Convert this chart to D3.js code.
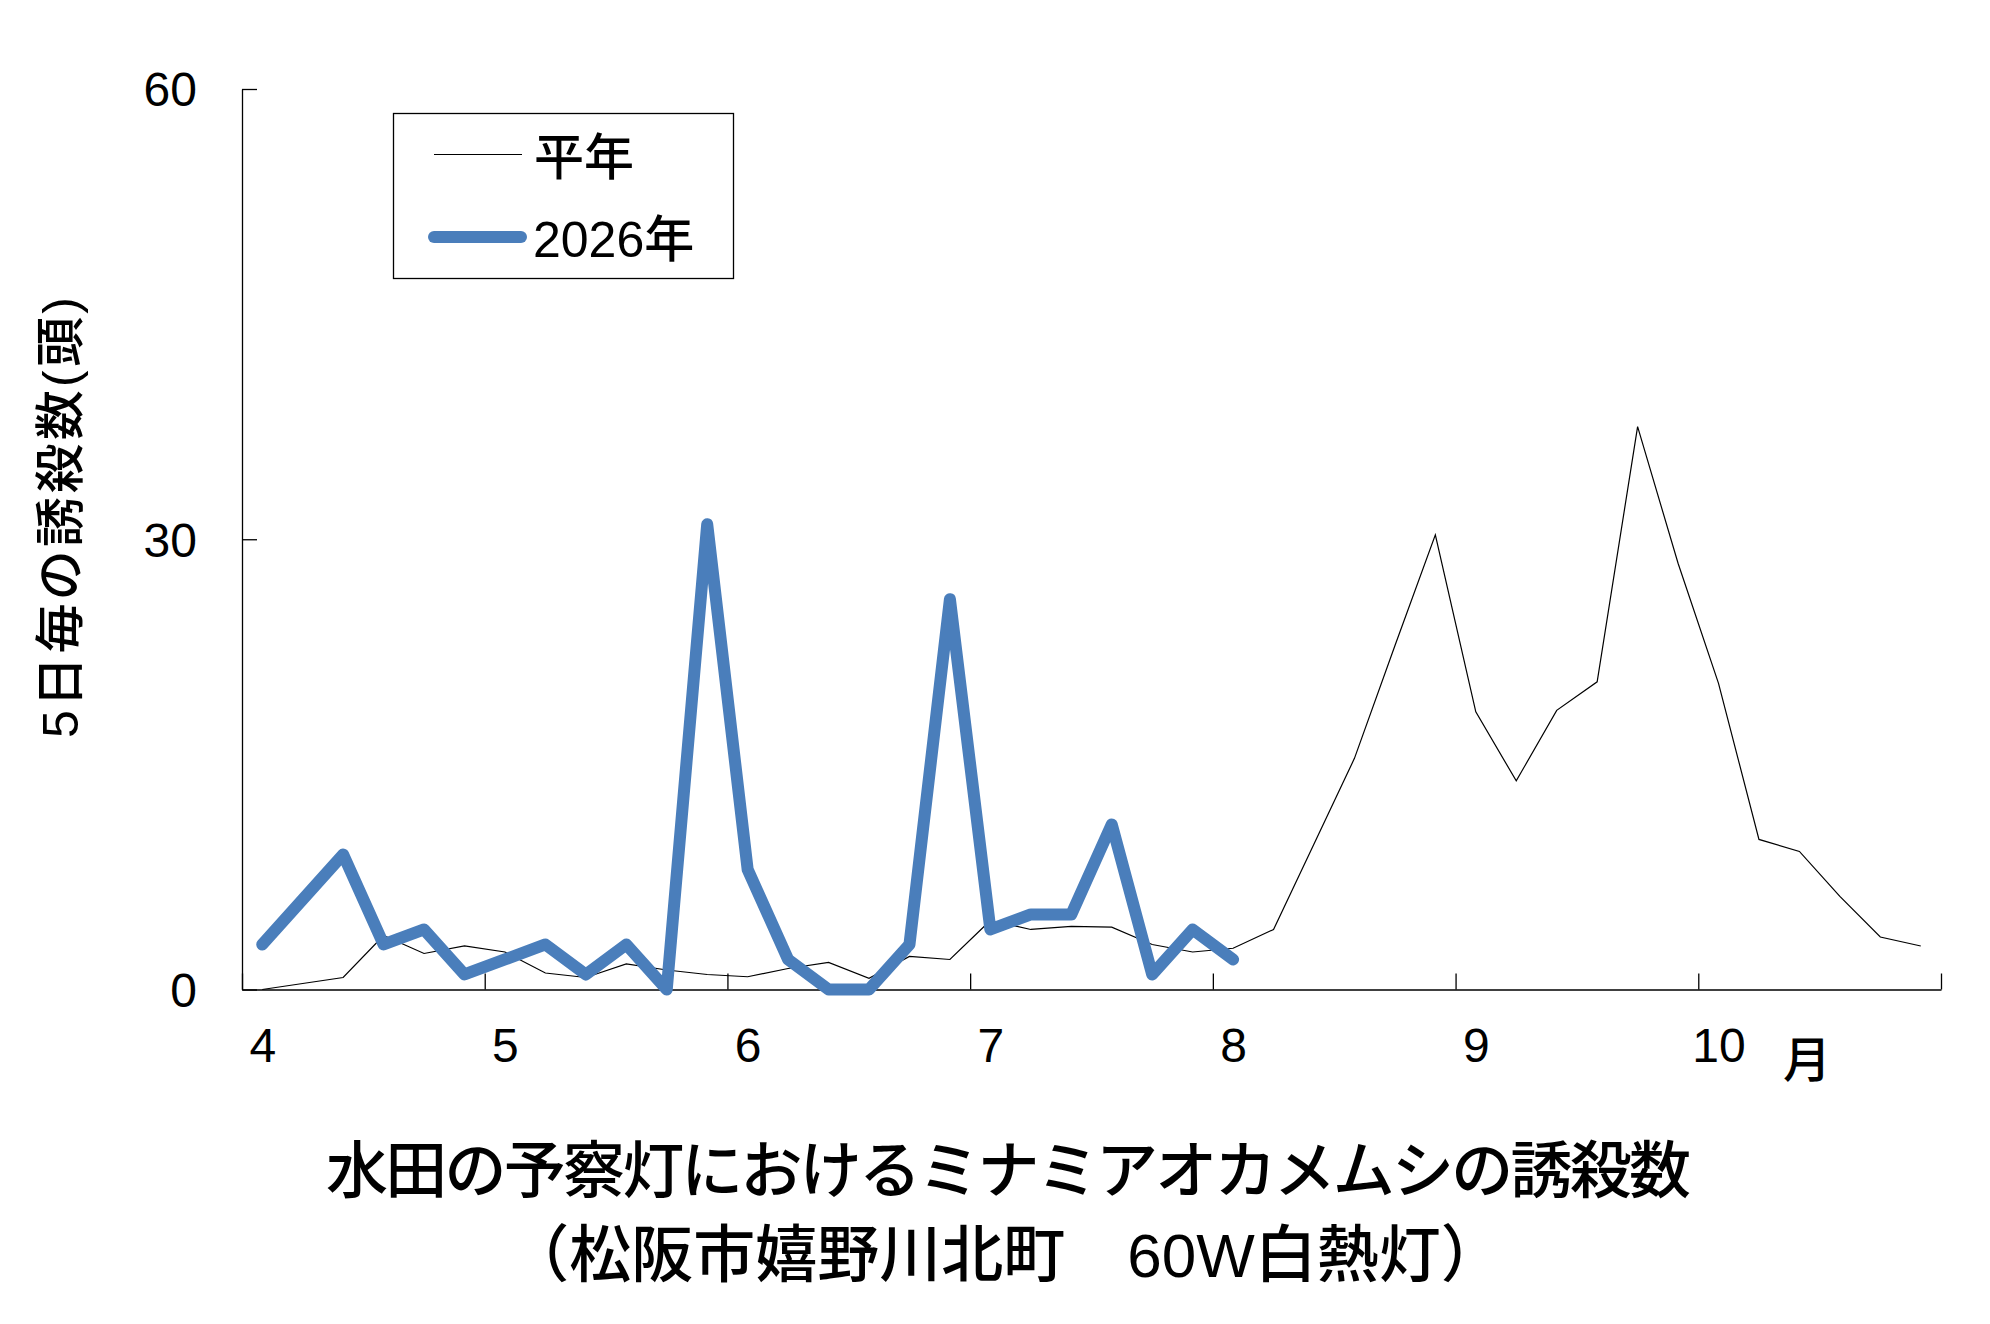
<!DOCTYPE html>
<html lang="ja">
<head>
<meta charset="utf-8">
<style>
    body { margin: 0; background: #fff; }
    svg { display: block; }
    .num { font-family: "Liberation Sans", "Noto Sans CJK JP", sans-serif; font-weight: 500; }
    .jp { font-family: "Noto Sans CJK JP", sans-serif; font-weight: 500; }
</style>
<script src="https://d3js.org/d3.v7.min.js"></script>
</head>
<body>
<script>
    // month labels (first 5-day period of each month)
    var months = ["4", "5", "6", "7", "8", "9", "10"];
    var yTicks = [0, 30, 60];
    var seriesNames = ["平年", "2026年"];

    // 5-day trap counts, Apr 1st period .. Oct last period (42 periods)
    var avgCounts = [0, 0.4, 0.8, 3.6, 2.4, 2.9, 2.5, 1.1, 0.8, 1.7, 1.3, 1.0,
                     0.85, 1.4, 1.8, 0.75, 2.2, 2.0, 4.6, 4.0, 4.2, 4.15, 3.0, 2.5,
                     2.75, 4.0, 9.7, 15.4, 22.9, 30.3, 18.5, 13.9, 18.6, 20.5, 37.5, 28.4,
                     20.4, 10.0, 9.2, 6.2, 3.5, 2.9];
    var counts2026 = [3, 6, 9, 3, 4, 1, 2, 3, 1, 3, 0, 31,
                      8, 2, 0, 0, 3, 26, 4, 5, 5, 11, 1, 4, 2];

    var width = 1990, height = 1324;
    var nPeriods = 42;

    var svg = d3.select("body").append("svg")
        .attr("width", width)
        .attr("height", height);

    var x = d3.scaleLinear().domain([0, nPeriods]).range([242, 1941]);
    var y = d3.scaleLinear().domain([0, 60]).range([989.5, 89]);

    // y axis, ticks pointing into the plot
    var yAxis = svg.append("g")
        .attr("transform", "translate(242,0)")
        .call(d3.axisLeft(y).tickValues(yTicks).tickSizeInner(-15).tickSizeOuter(0).tickPadding(45));
    yAxis.selectAll("path, line").attr("stroke", "#000").attr("stroke-width", 1.3);
    yAxis.selectAll("text")
        .attr("class", "num")
        .attr("font-size", 48)
        .attr("fill", "#000")
        .attr("dy", "0.35em");

    // x axis: month boundary ticks
    var xAxis = svg.append("g")
        .attr("transform", "translate(0,989.5)")
        .call(d3.axisBottom(x).tickValues(d3.range(0, nPeriods + 1, 6))
              .tickSizeInner(-16).tickSizeOuter(0).tickFormat(""));
    xAxis.selectAll("path, line").attr("stroke", "#000").attr("stroke-width", 1.3);

    // x labels at first period of each month
    var xLab = svg.append("g")
        .attr("transform", "translate(0,989.5)")
        .call(d3.axisBottom(x).tickValues(months.map(function(m, i) { return i * 6 + 0.5; }))
              .tickFormat(function(d, i) { return months[i]; })
              .tickSize(0).tickPadding(38));
    xLab.select(".domain").remove();
    xLab.selectAll("text")
        .attr("class", "num")
        .attr("font-size", 48)
        .attr("fill", "#000");

    svg.append("text")
        .attr("class", "jp")
        .attr("x", 1807)
        .attr("y", 1077)
        .attr("text-anchor", "middle")
        .attr("font-size", 48)
        .text("月");

    var line = d3.line()
        .x(function(d, i) { return x(i + 0.5); })
        .y(function(d) { return y(d); });

    svg.append("path")
        .datum(avgCounts)
        .attr("d", line)
        .attr("fill", "none")
        .attr("stroke", "#000")
        .attr("stroke-width", 1.2);

    svg.append("path")
        .datum(counts2026)
        .attr("d", line)
        .attr("fill", "none")
        .attr("stroke", "#4a7ebb")
        .attr("stroke-width", 12)
        .attr("stroke-linejoin", "round")
        .attr("stroke-linecap", "round");

    // legend
    var lg = svg.append("g");
    lg.append("rect")
        .attr("x", 393.5).attr("y", 113.5)
        .attr("width", 340).attr("height", 165)
        .attr("fill", "#fff").attr("stroke", "#000").attr("stroke-width", 1.3);
    lg.append("line")
        .attr("x1", 434).attr("x2", 522).attr("y1", 154.5).attr("y2", 154.5)
        .attr("stroke", "#000").attr("stroke-width", 1.2);
    lg.append("line")
        .attr("x1", 434).attr("x2", 521).attr("y1", 237).attr("y2", 237)
        .attr("stroke", "#4a7ebb").attr("stroke-width", 12).attr("stroke-linecap", "round");
    lg.append("text")
        .attr("class", "num")
        .attr("x", 534).attr("y", 175)
        .attr("font-size", 50)
        .text(seriesNames[0]);
    lg.append("text")
        .attr("class", "num")
        .attr("x", 533).attr("y", 257)
        .attr("font-size", 50)
        .text(seriesNames[1]);

    // y axis title
    svg.append("text")
        .attr("class", "num")
        .attr("transform", "translate(78,517.5) rotate(-90)")
        .attr("text-anchor", "middle")
        .attr("font-size", 50)
        .attr("textLength", 441)
        .attr("lengthAdjust", "spacing")
        .text("5日毎の誘殺数(頭)");

    // caption
    svg.append("text")
        .attr("class", "jp")
        .attr("x", 1008.5).attr("y", 1193)
        .attr("text-anchor", "middle")
        .attr("font-size", 62)
        .attr("textLength", 1365)
        .attr("lengthAdjust", "spacing")
        .text("水田の予察灯におけるミナミアオカメムシの誘殺数");
    svg.append("text")
        .attr("class", "num")
        .attr("x", 1005).attr("y", 1277)
        .attr("text-anchor", "middle")
        .attr("font-size", 62)
        .text("（松阪市嬉野川北町　60W白熱灯）");
</script>
</body>
</html>
